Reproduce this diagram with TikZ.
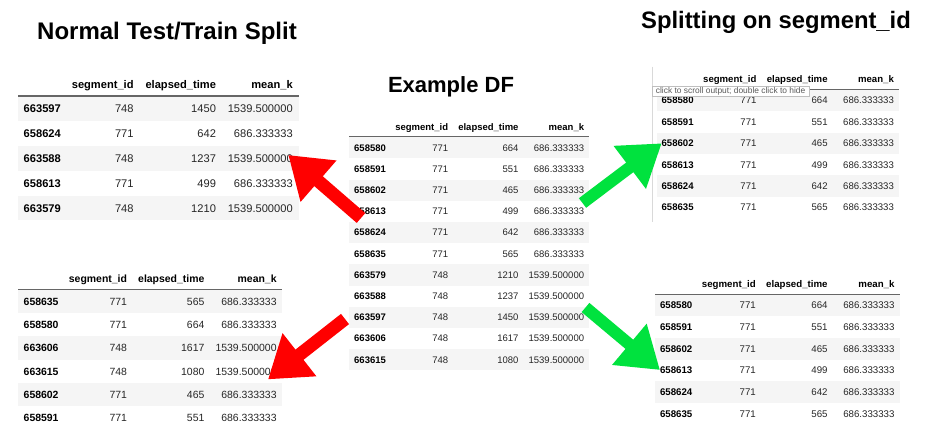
\documentclass[tikz,border=0pt]{standalone}
\usepackage{fontspec}
\setmainfont{Liberation Sans}
\usetikzlibrary{arrows.meta}

\definecolor{arrred}{RGB}{255,0,0}
\definecolor{arrgreen}{RGB}{0,226,62}
\definecolor{rowgray}{RGB}{245,245,245}

% one pandas table, local frame: rule at y=0, width 240, rows 21.2 apart
\newcommand{\dftable}[2]{%
  \node[hdr] (#1-h1) at (99,-6.6) {segment\_id};
  \node[hdr] (#1-h2) at (169.4,-6.6) {elapsed\_time};
  \node[hdr] (#1-h3) at (235,-6.6) {mean\_k};
  \foreach \idx/\seg/\el/\mk [count=\r] in {#2} {
    \pgfmathsetmacro\yc{11+21.2*(\r-1)}
    \ifodd\r \fill[rowgray] (0,\yc-10.6) rectangle (240,\yc+10.6); \fi
    \node[idxcell] (#1-i\r) at (4.7,\yc+3.4) {\idx};
    \node[numcell] (#1-s\r) at (99,\yc+3.4) {\seg};
    \node[numcell] (#1-e\r) at (169.4,\yc+3.4) {\el};
    \node[numcell] (#1-m\r) at (235,\yc+3.4) {\mk};
  }
  \draw[hrule] (0,0) -- (240,0);
}

\begin{document}
\begin{tikzpicture}[x=1pt,y=-1pt,
  cell/.style={inner sep=0pt,font=\fontsize{9.5}{11}\selectfont,text=black!85},
  numcell/.style={cell,anchor=base east},
  idxcell/.style={cell,anchor=base west,font=\fontsize{9.5}{11}\selectfont\bfseries,text=black},
  hdr/.style={cell,anchor=base east,font=\fontsize{9.5}{11}\selectfont\bfseries,text=black},
  hrule/.style={draw=black!60,line width=1.2pt},
  title/.style={inner sep=0pt,font=\fontsize{24}{28}\selectfont\bfseries},
  redarrow/.style={draw=arrred,line width=13pt,-{Triangle[length=40pt,width=52pt]}},
  greenarrow/.style={draw=arrgreen,line width=12pt,-{Triangle[length=40pt,width=51pt]}},
  tipbox/.style={draw=black!25,fill=white,inner xsep=4pt,inner ysep=0pt,
    minimum height=10pt,anchor=north west,text=black!65,
    font=\fontsize{8.4}{9}\selectfont}]
\useasboundingbox[fill=white] (0,0) rectangle (931,442);
% titles
\node[title] (ttl-normal) at (167,33) {Normal Test/Train Split};
\node[title,font=\fontsize{22}{26}\selectfont\bfseries] (ttl-example) at (451,87) {Example DF};
\node[title,font=\fontsize{23.8}{28}\selectfont\bfseries] (ttl-split) at (776,22) {Splitting on segment\_id};
% example frame in the middle
\begin{scope}[shift={(349.3,136.7)}]
\dftable{ce}{658580/771/664/686.333333, 658591/771/551/686.333333,
  658602/771/465/686.333333, 658613/771/499/686.333333,
  658624/771/642/686.333333, 658635/771/565/686.333333,
  663579/748/1210/1539.500000, 663588/748/1237/1539.500000,
  663597/748/1450/1539.500000, 663606/748/1617/1539.500000,
  663615/748/1080/1539.500000}
\end{scope}
% normal split, left side
\begin{scope}[shift={(18,96)},scale=1.17,transform shape]
\dftable{lt}{663597/748/1450/1539.500000, 658624/771/642/686.333333,
  663588/748/1237/1539.500000, 658613/771/499/686.333333,
  663579/748/1210/1539.500000}
\end{scope}
\begin{scope}[shift={(18.3,289.3)},scale=1.10,transform shape]
\dftable{lb}{658635/771/565/686.333333, 658580/771/664/686.333333,
  663606/748/1617/1539.500000, 663615/748/1080/1539.500000,
  658602/771/465/686.333333, 658591/771/551/686.333333}
\end{scope}
% split on segment_id, right side
\draw[black!15] (651.7,66.7) -- (651.7,221.7);
\begin{scope}[shift={(656.7,89.3)},scale=1.01,transform shape]
\dftable{rt}{658580/771/664/686.333333, 658591/771/551/686.333333,
  658602/771/465/686.333333, 658613/771/499/686.333333,
  658624/771/642/686.333333, 658635/771/565/686.333333}
\end{scope}
\node[tipbox] (tooltip) at (651.7,86) {click to scroll output; double click to hide};
\begin{scope}[shift={(655,294.3)},scale=1.02,transform shape]
\dftable{rb}{658580/771/664/686.333333, 658591/771/551/686.333333,
  658602/771/465/686.333333, 658613/771/499/686.333333,
  658624/771/642/686.333333, 658635/771/565/686.333333}
\end{scope}
% arrows
\coordinate (redA-tail) at (361,218);
\coordinate (redA-tip) at (288.3,155);
\coordinate (redB-tail) at (345,319);
\coordinate (redB-tip) at (268,379.4);
\coordinate (greenA-tail) at (582.5,203);
\coordinate (greenA-tip) at (661.7,143.3);
\coordinate (greenB-tail) at (585.5,307.5);
\coordinate (greenB-tip) at (660,370);
\draw[redarrow] (redA-tail) -- (redA-tip);
\draw[redarrow] (redB-tail) -- (redB-tip);
\draw[greenarrow] (greenA-tail) -- (greenA-tip);
\draw[greenarrow] (greenB-tail) -- (greenB-tip);
\end{tikzpicture}
\end{document}
